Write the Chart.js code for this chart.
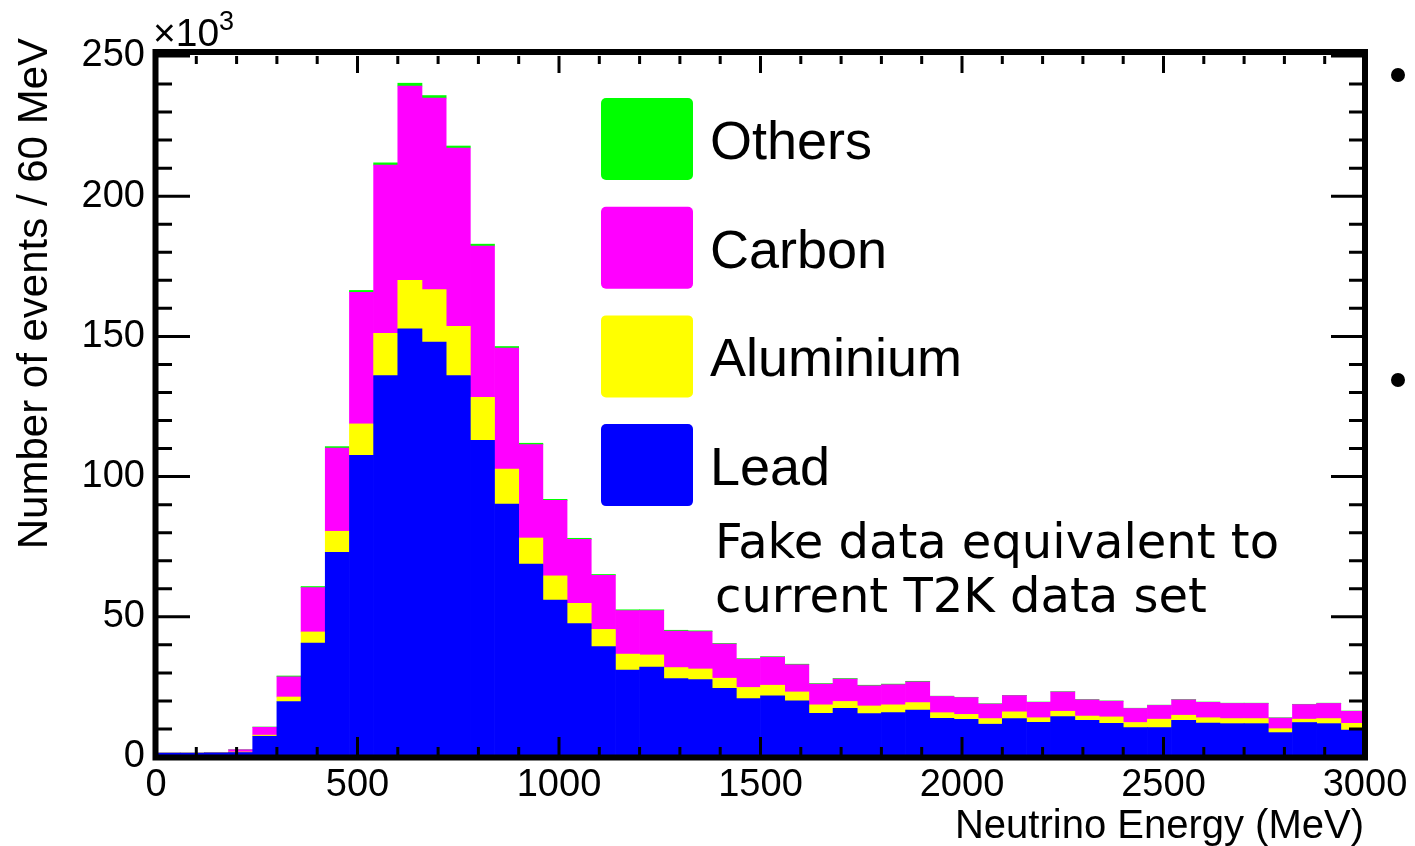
<!DOCTYPE html>
<html lang="en">
  <head>
    <meta charset="utf-8" />
    <title>Neutrino energy by target material</title>
    <style>
      html, body { margin: 0; padding: 0; background: #fff; }
      #wrap { width: 1415px; height: 846px; }
    </style>
  </head>
  <body>
    <div id="wrap"><canvas id="myChart" width="1415" height="846"></canvas></div>
    <script src="https://cdn.jsdelivr.net/npm/chart.js/dist/chart.umd.min.js"></script>
    <script>
      // bin centres in MeV, 60 MeV wide bins
      const energy = [30, 90, 150, 210, 270, 330, 390, 450, 510, 570,
        630, 690, 750, 810, 870, 930, 990, 1050, 1110, 1170,
        1230, 1290, 1350, 1410, 1470, 1530, 1590, 1650, 1710, 1770,
        1830, 1890, 1950, 2010, 2070, 2130, 2190, 2250, 2310, 2370,
        2430, 2490, 2550, 2610, 2670, 2730, 2790, 2850, 2910, 2970];

      // events per bin, x10^3
      const lead = [1.4, 1.4, 1.5, 1.6, 7.4, 19.8, 40.6, 73.0, 107.6, 136.0,
        152.7, 148.0, 136.0, 112.9, 90.2, 68.8, 56.0, 47.6, 39.4, 31.0,
        32.1, 28.0, 27.6, 24.5, 20.8, 21.8, 20.0, 15.6, 17.4, 15.5,
        15.8, 16.7, 13.8, 13.4, 11.7, 13.7, 12.4, 14.4, 13.1, 12.0,
        10.5, 10.5, 13.1, 12.1, 11.9, 11.9, 8.7, 12.3, 11.9, 9.6];
      const aluminium = [0, 0, 0, 0.2, 0.4, 1.6, 4.0, 7.5, 11.2, 15.1,
        17.3, 18.7, 17.6, 15.4, 12.5, 9.3, 8.6, 7.2, 6.1, 5.7,
        4.3, 3.9, 3.8, 3.6, 4.0, 3.8, 3.2, 3.0, 2.4, 2.7,
        2.8, 2.7, 2.0, 1.8, 2.0, 2.4, 1.6, 1.9, 1.5, 2.3,
        1.8, 3.0, 1.8, 1.9, 1.8, 1.8, 1.4, 1.2, 1.8, 2.4];
      const carbon = [0, 0, 0, 0.8, 2.8, 7.2, 15.8, 29.7, 46.9, 60.0,
        69.3, 68.3, 63.6, 53.9, 43.1, 33.3, 26.9, 22.8, 19.3, 15.5,
        15.8, 13.0, 13.3, 12.2, 10.1, 10.0, 9.7, 7.4, 8.0, 7.2,
        7.2, 7.4, 5.8, 6.0, 5.2, 5.8, 5.5, 6.9, 5.8, 5.6,
        5.0, 4.9, 5.5, 5.5, 5.4, 5.4, 3.8, 5.2, 5.4, 4.3];
      const others = [0, 0, 0, 0, 0.1, 0.3, 0.4, 0.5, 0.7, 0.8,
        1.0, 0.9, 0.7, 0.7, 0.6, 0.5, 0.4, 0.4, 0.3, 0.3,
        0.3, 0.3, 0.3, 0.2, 0.2, 0.2, 0.2, 0.2, 0.2, 0.2,
        0.2, 0.2, 0.1, 0.1, 0.1, 0.1, 0.1, 0.1, 0.1, 0.1,
        0.1, 0.1, 0.1, 0.1, 0.1, 0.1, 0.1, 0.1, 0.1, 0.1];

      const yTicks = [0, 50, 100, 150, 200, 250];
      const xTicks = [0, 500, 1000, 1500, 2000, 2500, 3000];

      const helv = '"Liberation Sans", Arial, sans-serif';
      const toPoints = (vals) => energy.map((e, i) => ({ x: e, y: vals[i] }));

      // ROOT-style frame with inner ticks on all four sides
      const frame = {
        id: "frame",
        afterDatasetsDraw(chart) {
          const { ctx, chartArea: a, scales: { x, y } } = chart;
          ctx.save();
          ctx.strokeStyle = "#000";
          ctx.lineWidth = 3;
          ctx.beginPath();
          for (let v = 0; v <= 250; v += 10) {
            const py = y.getPixelForValue(v);
            const len = v % 50 === 0 ? 34 : 16;
            ctx.moveTo(a.left, py); ctx.lineTo(a.left + len, py);
            ctx.moveTo(a.right, py); ctx.lineTo(a.right - len, py);
          }
          for (let v = 0; v <= 3000; v += 100) {
            const px = x.getPixelForValue(v);
            const major = v % 500 === 0;
            ctx.moveTo(px, a.bottom); ctx.lineTo(px, a.bottom - (major ? 20 : 10));
            ctx.moveTo(px, a.top); ctx.lineTo(px, a.top + (major ? 17 : 8));
          }
          ctx.stroke();
          ctx.lineWidth = 6;
          ctx.strokeRect(a.left - 0.5, a.top - 4, a.right - a.left + 0.5, a.bottom - a.top + 4.5);
          ctx.restore();
        },
      };

      // axis titles, legend boxes, note, exponent and slide bullets
      const extras = {
        id: "extras",
        afterDraw(chart) {
          const { ctx, chartArea: a } = chart;
          ctx.save();
          ctx.fillStyle = "#000";

          ctx.font = "40px " + helv;
          ctx.textAlign = "right";
          ctx.textBaseline = "alphabetic";
          ctx.fillText("Neutrino Energy (MeV)", a.right - 1, 838);

          ctx.save();
          ctx.translate(35, 38);
          ctx.rotate(-Math.PI / 2);
          ctx.font = "42px " + helv;
          ctx.textBaseline = "middle";
          ctx.fillText("Number of events / 60 MeV", 0, 0);
          ctx.restore();

          ctx.textAlign = "left";
          const sets = chart.data.datasets.slice().reverse();
          sets.forEach((ds, i) => {
            const top = 98 + i * 108.7;
            ctx.fillStyle = ds.backgroundColor;
            ctx.beginPath();
            ctx.roundRect(601, top, 92, 82, 5);
            ctx.fill();
            ctx.fillStyle = "#000";
            ctx.font = "54px " + helv;
            ctx.fillText(ds.label, 710, top + 61);
          });

          ctx.font = '48px "DejaVu Sans", sans-serif';
          ctx.fillText("Fake data equivalent to", 715, 558);
          ctx.fillText("current T2K data set", 715, 612);

          ctx.font = "39px " + helv;
          ctx.fillText("\u00d710", 153, 46);
          ctx.font = "27px " + helv;
          ctx.fillText("3", 219, 30);

          ctx.beginPath();
          ctx.arc(1398, 75, 7, 0, Math.PI * 2);
          ctx.arc(1398, 380, 7, 0, Math.PI * 2);
          ctx.fill();
          ctx.restore();
        },
      };

      const data = {
        datasets: [
          { label: "Lead", data: toPoints(lead), backgroundColor: "#0000ff" },
          { label: "Aluminium", data: toPoints(aluminium), backgroundColor: "#ffff00" },
          { label: "Carbon", data: toPoints(carbon), backgroundColor: "#ff00ff" },
          { label: "Others", data: toPoints(others), backgroundColor: "#00ff00" },
        ],
      };

      const config = {
        type: "bar",
        data,
        options: {
          responsive: false,
          animation: false,
          devicePixelRatio: 1,
          layout: { padding: { top: 56, right: 50, left: 0, bottom: 0 } },
          datasets: { bar: { barPercentage: 1, categoryPercentage: 1, borderWidth: 0 } },
          plugins: { legend: { display: false }, tooltip: { enabled: false } },
          scales: {
            x: {
              type: "linear",
              stacked: true,
              min: 0,
              max: 3000,
              offset: false,
              grid: { display: false, drawTicks: false },
              border: { display: false },
              afterBuildTicks: (s) => { s.ticks = xTicks.map((v) => ({ value: v })); },
              ticks: {
                color: "#000",
                font: { family: helv, size: 38 },
                padding: 6,
                maxRotation: 0,
                autoSkip: false,
                callback: (v) => String(v),
              },
              afterFit: (s) => { s.height = 89; },
            },
            y: {
              stacked: true,
              min: 0,
              max: 250,
              grid: { display: false, drawTicks: false },
              border: { display: false },
              afterBuildTicks: (s) => { s.ticks = yTicks.map((v) => ({ value: v })); },
              ticks: {
                color: "#000",
                font: { family: helv, size: 38 },
                padding: 11,
                autoSkip: false,
                callback: (v) => String(v),
              },
              afterFit: (s) => { s.width = 156; },
            },
          },
        },
        plugins: [frame, extras],
      };

      const myChart = new Chart(document.getElementById("myChart"), config);
    </script>
  </body>
</html>
